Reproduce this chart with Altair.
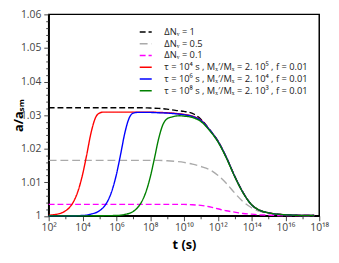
import altair as alt
import pandas as pd

# ---- data (exponent of t in seconds, a/a_SM) ----
names = [
    "ΔNᵥ = 1",
    "ΔNᵥ = 0.5",
    "ΔNᵥ = 0.1",
    "τ = 10⁴ s , Mₓ′/Mₓ = 2. 10⁵ , f = 0.01",
    "τ = 10⁶ s , Mₓ′/Mₓ = 2. 10⁴ , f = 0.01",
    "τ = 10⁸ s , Mₓ′/Mₓ = 2. 10³ , f = 0.01",
]
colors = ["#000000", "#aaaaaa", "#ff00ff", "#ff0000", "#0000ff", "#008000"]
dashes = [[6, 3], [8, 4], [6, 3], [1, 0], [1, 0], [1, 0]]

e_dn = [2, 3, 4, 5, 6, 7, 7.5, 8, 8.5, 9, 9.5, 10, 10.5, 11, 11.5, 12, 12.5,
        13, 13.5, 14, 14.5, 15, 15.5, 16, 16.5, 17, 17.7]
a_dn1 = [1.0322, 1.0322, 1.0322, 1.0322, 1.0322, 1.0322, 1.0322, 1.0321, 1.0320,
         1.0318, 1.0314, 1.0311, 1.0305, 1.0288, 1.0258, 1.0224, 1.0175, 1.0118,
         1.0069, 1.0033, 1.0016, 1.0009, 1.0005, 1.0003, 1.0002, 1.0001, 1.0001]
a_dn05 = [1.0165, 1.0165, 1.0165, 1.0165, 1.0165, 1.0165, 1.0165, 1.0165, 1.0165,
          1.0164, 1.0162, 1.0159, 1.0154, 1.0147, 1.0138, 1.0121, 1.0097, 1.0068,
          1.0042, 1.0024, 1.0013, 1.0008, 1.0005, 1.0003, 1.0002, 1.0001, 1.0001]
a_dn01 = [1.0034, 1.0034, 1.0034, 1.0034, 1.0034, 1.0034, 1.0034, 1.0034, 1.0034,
          1.0034, 1.0034, 1.0034, 1.0033, 1.0031, 1.0027, 1.0021, 1.0015, 1.0011,
          1.0007, 1.0005, 1.0003, 1.0002, 1.0001, 1.0001, 1.0001, 1.0001, 1.0001]

e_red = [2, 2.5, 3, 3.25, 3.5, 3.75, 4, 4.25, 4.5, 4.75, 5, 5.25, 5.5, 6, 7, 8,
         8.5, 9, 9.5, 10, 10.5, 11, 11.5, 12, 12.5, 13, 13.5, 14, 14.5, 15, 15.5,
         16, 16.5, 17, 17.7]
a_red = [1.0002, 1.0005, 1.0015, 1.0026, 1.0045, 1.0076, 1.0122, 1.0182, 1.0246,
         1.0290, 1.0306, 1.0309, 1.0309, 1.0309, 1.0309, 1.0309, 1.0308, 1.0307,
         1.0305, 1.0302, 1.0297, 1.0285, 1.0257, 1.0223, 1.0175, 1.0118, 1.0069,
         1.0033, 1.0016, 1.0009, 1.0005, 1.0003, 1.0002, 1.0001, 1.0001]

e_blue = [2, 3, 4, 4.5, 5, 5.25, 5.5, 5.75, 6, 6.25, 6.5, 6.75, 7, 7.25, 7.5, 8,
          8.5, 9, 9.5, 10, 10.5, 11, 11.5, 12, 12.5, 13, 13.5, 14, 14.5, 15, 15.5,
          16, 16.5, 17, 17.7]
a_blue = [1.0000, 1.0000, 1.0001, 1.0005, 1.0015, 1.0026, 1.0045, 1.0076, 1.0122,
          1.0182, 1.0246, 1.0290, 1.0306, 1.0308, 1.0308, 1.0308, 1.0307, 1.0306,
          1.0304, 1.0301, 1.0296, 1.0284, 1.0257, 1.0223, 1.0175, 1.0118, 1.0069,
          1.0033, 1.0016, 1.0009, 1.0005, 1.0003, 1.0002, 1.0001, 1.0001]

e_green = [2, 4, 6, 6.5, 7, 7.25, 7.5, 7.75, 8, 8.25, 8.5, 8.75, 9, 9.25, 9.5,
           9.75, 10, 10.5, 11, 11.5, 12, 12.5, 13, 13.5, 14, 14.5, 15, 15.5, 16,
           16.5, 17, 17.7]
a_green = [1.0000, 1.0000, 1.0001, 1.0004, 1.0013, 1.0024, 1.0042, 1.0071, 1.0114,
           1.0170, 1.0229, 1.0271, 1.0289, 1.0294, 1.0297, 1.0298, 1.0297, 1.0293,
           1.0281, 1.0255, 1.0221, 1.0173, 1.0117, 1.0068, 1.0033, 1.0016, 1.0009,
           1.0005, 1.0003, 1.0002, 1.0001, 1.0001]

x_exponents = list(range(2, 19))
y_major = [1.00, 1.01, 1.02, 1.03, 1.04, 1.05, 1.06]

# ---- build table ----
series = [
    (names[0], e_dn, a_dn1),
    (names[1], e_dn, a_dn05),
    (names[2], e_dn, a_dn01),
    (names[3], e_red, a_red),
    (names[4], e_blue, a_blue),
    (names[5], e_green, a_green),
]
rows = []
for i, (n, es, vs) in enumerate(series):
    for e, v in zip(es, vs):
        rows.append({"series": n, "order": i, "t": 10.0 ** e, "a": v})
df = pd.DataFrame(rows)

sup = "⁰¹²³⁴⁵⁶⁷⁸⁹"
def supnum(n):
    return "".join(sup[int(c)] for c in str(n))

x_labels = [("10" + supnum(e)) if e % 2 == 0 else "" for e in x_exponents]
x_label_expr = "[" + ",".join("'" + s + "'" for s in x_labels) + "][round(log(datum.value)/LN10) - 2]"
x_values = [10.0 ** e for e in x_exponents]

y_values = [round(1.0 + 0.002 * k, 3) for k in range(0, 31)]
y_major_test = "abs(datum.value*100 - round(datum.value*100)) < 0.001"

chart = alt.Chart(df).mark_line(strokeWidth=1.4, interpolate="monotone").encode(
    x=alt.X("t:Q",
            scale=alt.Scale(type="log", domain=[1e2, 1e18]),
            axis=alt.Axis(values=x_values, labelExpr=x_label_expr,
                          title="t (s)",
                          tickSize={"condition": {"test": "round(log(datum.value)/LN10) % 2 == 0", "value": 5}, "value": 3},
                          labelFlush=False, labelOverlap=False,
                          labelPadding=2, titlePadding=6)),
    y=alt.Y("a:Q",
            scale=alt.Scale(domain=[1.0, 1.06], nice=False, zero=False),
            axis=alt.Axis(values=y_values,
                          labelExpr=f"({y_major_test}) ? format(datum.value, '.2~f') : ''",
                          tickSize={"condition": {"test": y_major_test, "value": 5}, "value": 3},
                          title="a/aₛₘ", labelOverlap=False, labelPadding=3,
                          titleX=-24)),
    color=alt.Color("series:N",
                    scale=alt.Scale(domain=names, range=colors),
                    legend=alt.Legend(title=None, orient="none", legendX=92, legendY=11,
                                      symbolType="stroke", symbolSize=150,
                                      symbolStrokeWidth=1.5, labelFontSize=9.5,
                                      labelFont="Open Sans", labelColor="#222",
                                      labelOffset=12, rowPadding=0, padding=0,
                                      labelLimit=400)),
    strokeDash=alt.StrokeDash("series:N",
                              scale=alt.Scale(domain=names, range=dashes),
                              legend=None),
    detail="order:O",
).properties(
    width=276, height=205.5,
    autosize=alt.AutoSizeParams(type="none"),
    padding={"left": 41.5, "top": 4, "right": 12, "bottom": 40},
).configure_axis(
    grid=False,
    labelFont="Open Sans", labelFontSize=10.5, labelColor="#444",
    tickColor="#444", tickWidth=1,
    domainColor="#000", domainWidth=1.5,
    titleFont="Open Sans", titleFontSize=13, titleFontWeight="bold", titleColor="#000",
).configure_view(
    stroke="#000", strokeWidth=1.5,
)

chart.save("out.html", embed_options={"renderer": "svg", "actions": False})
